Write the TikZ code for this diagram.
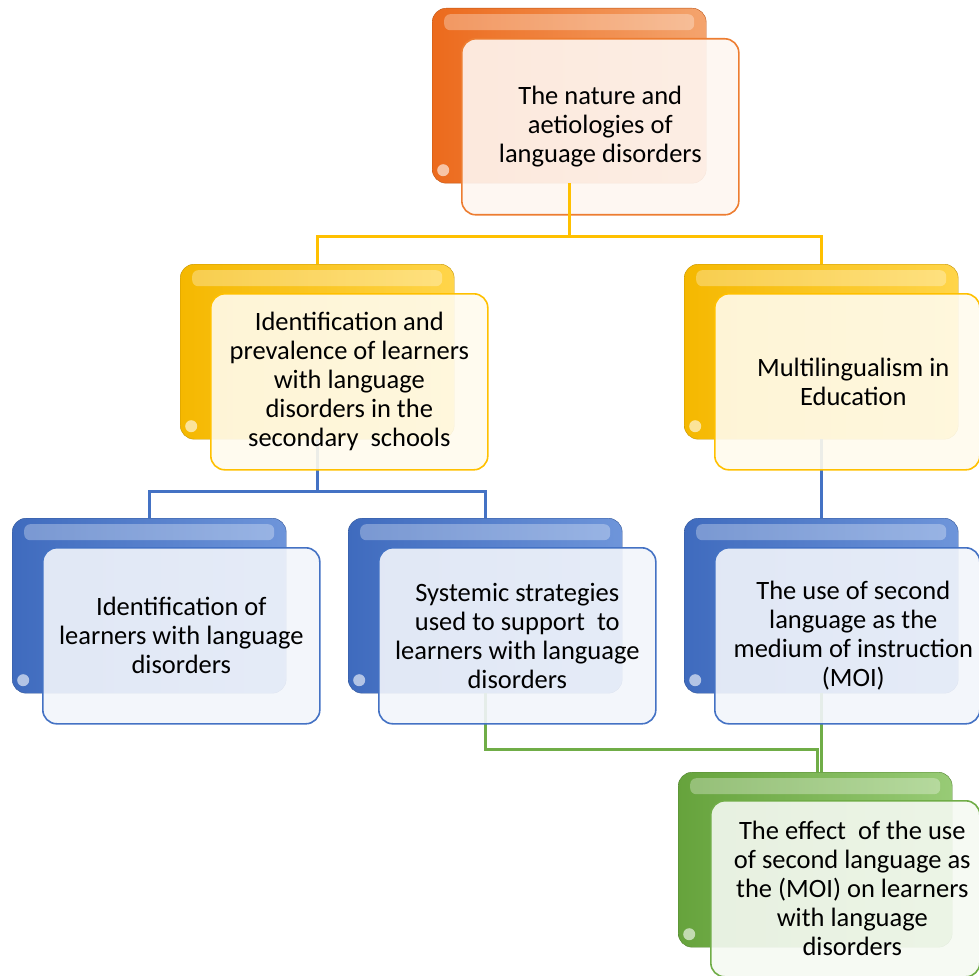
\documentclass[tikz,border=0pt]{standalone}
\usepackage{fontspec}
\setmainfont{Carlito}
\definecolor{orgA}{HTML}{F4A46E}
\definecolor{orgB}{HTML}{EC6A1C}
\definecolor{orgL}{HTML}{ED7D31}
\definecolor{yelA}{HTML}{FFD54A}
\definecolor{yelB}{HTML}{F5B800}
\definecolor{yelL}{HTML}{FFC000}
\definecolor{bluA}{HTML}{6E95DA}
\definecolor{bluB}{HTML}{3F6BBE}
\definecolor{bluL}{HTML}{4472C4}
\definecolor{grnA}{HTML}{98CB76}
\definecolor{grnB}{HTML}{66A33C}
\definecolor{grnL}{HTML}{70AD47}
\begin{document}
\begin{tikzpicture}[x=1pt,y=-1pt,
  every node/.style={font=\fontsize{26.5}{29}\selectfont},
  backbox/.style args={#1/#2}{anchor=north west, inner sep=0pt,
    minimum width=274pt, minimum height=175pt, rounded corners=14pt,
    left color=#2, right color=#1, draw=#2!80!black, line width=0.4pt,
    path picture={
      \fill[white,opacity=.3,rounded corners=6pt]
        ([xshift=12pt,yshift=-6pt]path picture bounding box.north west) rectangle
        ([xshift=-12pt,yshift=-22pt]path picture bounding box.north east);
      \fill[white,opacity=.6]
        ([xshift=11pt,yshift=13pt]path picture bounding box.south west) circle (6pt);
    }},
  frontbox/.style={anchor=north west, inner sep=4pt, align=center,
    minimum width=277pt, minimum height=176pt, rounded corners=14pt,
    draw=#1, line width=1.6pt, fill=#1!7, fill opacity=.9, text opacity=1},
  label text/.style={align=center, inner sep=0pt},
  link/.style={draw=#1, line width=2.6pt},
]
\useasboundingbox (0,0) rectangle (979,976);

% level 1
\node[backbox=orgA/orgB] (natB) at (432,8) {};
\node[frontbox=orgL] (natF) at (461,38)
  {The nature and\\aetiologies of\\language disorders};

% level 2
\node[backbox=yelA/yelB] (idpB) at (180,264) {};
\node[backbox=yelA/yelB] (mulB) at (684,264) {};

% level 3
\node[backbox=bluA/bluB] (lidB) at (12,518) {};
\node[backbox=bluA/bluB] (sysB) at (348,518) {};
\node[backbox=bluA/bluB] (medB) at (684,518) {};

% level 4
\node[backbox=grnA/grnB] (effB) at (678,772) {};

% connectors (drawn beneath the translucent front panels)
\draw[link=yelL] (natB.south) -- ++(0,53) coordinate (natJ);
\draw[link=yelL] (natJ) -| (idpB.north);
\draw[link=yelL] (natJ) -| (mulB.north);
\draw[link=bluL] (idpB.south) -- ++(0,52) coordinate (idpJ);
\draw[link=bluL] (idpJ) -| (lidB.north);
\draw[link=bluL] (idpJ) -| (sysB.north);
\draw[link=bluL] (mulB.south) -- (medB.north);
\draw[link=grnL] (sysB.south) -- ++(0,56) -| ([xshift=2pt]effB.north);
\draw[link=grnL] (medB.south) -- (medB.south |- effB.north);

% front panels with text
\node[frontbox=yelL] (idpF) at (210,293)
  {Identification and\\prevalence of learners\\with language\\disorders in the\\secondary\ \ schools};
\node[frontbox=yelL, minimum width=265pt] (mulF) at (714,293) {};
\node[label text] (mulT) at ([xshift=6pt]mulF.center)
  {Multilingualism in\\Education};
\node[frontbox=bluL] (lidF) at (42,547)
  {Identification of\\learners with language\\disorders};
\node[frontbox=bluL] (sysF) at (378,547)
  {Systemic strategies\\used to support\ \ to\\learners with language\\disorders};
\node[frontbox=bluL, minimum width=265pt] (medF) at (714,547) {};
\node[label text] (medT) at ([xshift=6pt]medF.center)
  {The use of second\\language as the\\medium of instruction\\(MOI)};
\node[frontbox=grnL, minimum width=269pt] (effF) at (710,800) {};
\node[label text] (effT) at ([xshift=7pt]effF.center)
  {The effect\ \ of the use\\of second language as\\the (MOI) on learners\\with language\\disorders};
\end{tikzpicture}
\end{document}
